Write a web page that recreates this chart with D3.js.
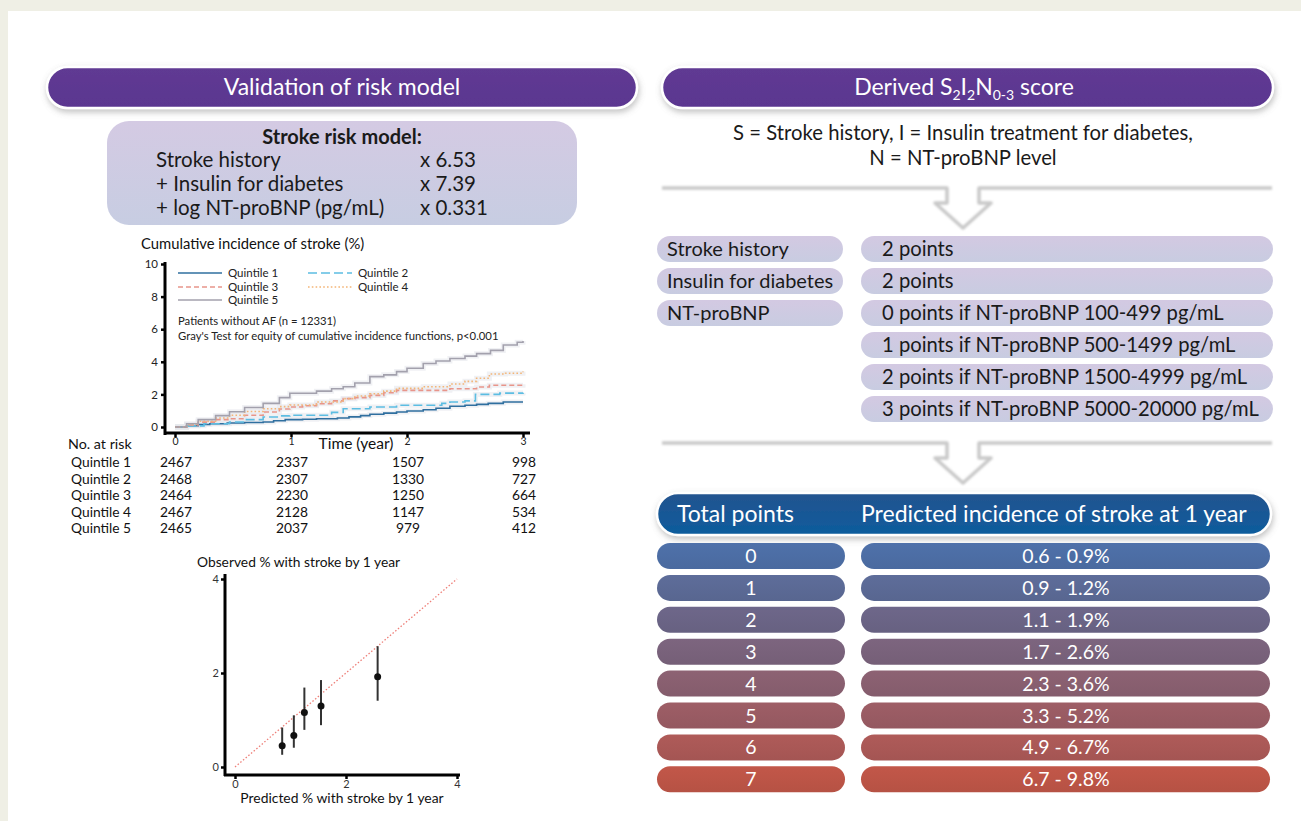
<!DOCTYPE html>
<html>
<head>
<meta charset="utf-8">
<script src="https://cdn.jsdelivr.net/npm/d3@7"></script>
<style>
  html, body { margin: 0; padding: 0; background: #efefe5; }
  svg { display: block; font-family: Lato, "Open Sans", sans-serif; }
</style>
</head>
<body>
<script>
// ---------- data ----------
const riskTerms = ["Stroke history", "+ Insulin for diabetes", "+ log NT-proBNP (pg/mL)"];
const riskCoefs = ["x 6.53", "x 7.39", "x 0.331"];

const quintiles = ["Quintile 1", "Quintile 2", "Quintile 3", "Quintile 4", "Quintile 5"];
const years = [0, 1, 2, 3];
const yTicks = [0, 2, 4, 6, 8, 10];

// cumulative incidence (%) by time (years), step functions
const q1 = [[0,0],[0.1,0.08],[0.2,0.15],[0.3,0.2],[0.45,0.25],[0.6,0.28],[0.76,0.31],[0.85,0.38],[0.95,0.45],[1.1,0.48],[1.22,0.51],[1.4,0.55],[1.5,0.62],[1.6,0.7],[1.68,0.78],[1.8,0.85],[1.91,0.92],[2.0,0.98],[2.14,1.06],[2.25,1.15],[2.37,1.27],[2.5,1.33],[2.6,1.39],[2.7,1.45],[2.83,1.53],[3.0,1.53]];
const q2 = [[0,0],[0.1,0.07],[0.25,0.2],[0.47,0.31],[0.6,0.45],[0.76,0.61],[0.9,0.68],[0.99,0.72],[1.22,0.72],[1.35,0.9],[1.45,1.12],[1.68,1.23],[1.91,1.33],[2.14,1.33],[2.3,1.45],[2.37,1.53],[2.5,1.6],[2.57,1.6],[2.59,2.0],[2.8,2.08],[3.0,2.1]];
const q3 = [[0,0],[0.1,0.12],[0.2,0.3],[0.35,0.45],[0.47,0.51],[0.6,0.72],[0.76,0.92],[0.9,1.1],[0.99,1.23],[1.1,1.3],[1.22,1.43],[1.35,1.6],[1.45,1.74],[1.55,1.8],[1.68,1.94],[1.8,2.1],[1.91,2.25],[2.14,2.25],[2.37,2.35],[2.6,2.45],[2.71,2.56],[3.0,2.62]];
const q4 = [[0,0],[0.1,0.15],[0.2,0.35],[0.35,0.55],[0.47,0.72],[0.6,0.95],[0.76,1.12],[0.9,1.25],[0.99,1.35],[1.22,1.53],[1.45,1.74],[1.55,1.9],[1.68,2.04],[1.8,2.2],[1.91,2.37],[2.14,2.47],[2.37,2.64],[2.5,2.8],[2.6,2.99],[2.71,3.25],[2.85,3.3],[3.0,3.4]];
const q5 = [[0,0],[0.1,0.2],[0.2,0.45],[0.35,0.7],[0.47,0.94],[0.6,1.2],[0.76,1.45],[0.9,1.8],[0.99,2.07],[1.22,2.2],[1.35,2.35],[1.45,2.47],[1.55,2.7],[1.68,3.09],[1.8,3.2],[1.91,3.4],[2.0,3.6],[2.14,3.9],[2.25,4.05],[2.37,4.2],[2.5,4.35],[2.6,4.5],[2.72,4.7],[2.83,5.03],[2.95,5.2],[3.0,5.28]];

// number at risk per quintile at years 0..3
const atRisk1 = [2467, 2337, 1507, 998];
const atRisk2 = [2468, 2307, 1330, 727];
const atRisk3 = [2464, 2230, 1250, 664];
const atRisk4 = [2467, 2128, 1147, 534];
const atRisk5 = [2465, 2037, 979, 412];

// calibration: predicted vs observed % with stroke by 1 year
const calTicks = [0, 2, 4];
const predicted = [0.85, 1.06, 1.25, 1.55, 2.57];
const observed  = [0.45, 0.67, 1.16, 1.30, 1.92];
const obsLower  = [0.26, 0.41, 0.79, 0.89, 1.41];
const obsUpper  = [0.84, 1.10, 1.69, 1.85, 2.57];

// score components
const scoreItems = ["Stroke history", "Insulin for diabetes", "NT-proBNP"];
const scorePoints = [
  "2 points",
  "2 points",
  "0 points if NT-proBNP 100-499 pg/mL",
  "1 points if NT-proBNP 500-1499 pg/mL",
  "2 points if NT-proBNP 1500-4999 pg/mL",
  "3 points if NT-proBNP 5000-20000 pg/mL"
];

// total points -> predicted 1-year incidence
const totalPoints = ["0", "1", "2", "3", "4", "5", "6", "7"];
const incidence = ["0.6 - 0.9%", "0.9 - 1.2%", "1.1 - 1.9%", "1.7 - 2.6%", "2.3 - 3.6%", "3.3 - 5.2%", "4.9 - 6.7%", "6.7 - 9.8%"];

// ---------- styles ----------
const quintileColors = ["#2f6f9f", "#5cbde2", "#e8958a", "#f3b577", "#a3a1ad"];
const quintileDash = [null, "9,4", "5,3", "1.6,2.2", null];
const rowColors = ["#4a6a9f", "#586690", "#676181", "#755f77", "#845c6c", "#945860", "#a45553", "#b65244"];

const W = 1301, H = 821;
const svg = d3.select("body").append("svg").attr("width", W).attr("height", H);
const defs = svg.append("defs");

const shadow = defs.append("filter").attr("id", "shadow")
  .attr("x", "-10%").attr("y", "-40%").attr("width", "120%").attr("height", "200%");
shadow.append("feDropShadow").attr("dx", 1).attr("dy", 3).attr("stdDeviation", 3)
  .attr("flood-color", "#777").attr("flood-opacity", 0.45);

const soft = defs.append("filter").attr("id", "soft")
  .attr("x", "-10%").attr("y", "-50%").attr("width", "120%").attr("height", "200%");
soft.append("feGaussianBlur").attr("stdDeviation", 0.9);

function vGrad(id, top, bottom) {
  const g = defs.append("linearGradient").attr("id", id).attr("x1", 0).attr("y1", 0).attr("x2", 0).attr("y2", 1);
  g.append("stop").attr("offset", "0%").attr("stop-color", top);
  g.append("stop").attr("offset", "100%").attr("stop-color", bottom);
}
vGrad("purple", "#603a93", "#5a3690");
vGrad("lav", "#d4cae3", "#c7cde2");
vGrad("navy", "#24548f", "#0c5c9d");
vGrad("lavRows", "#d3c9e2", "#c8cce1");
rowColors.forEach((c, i) => vGrad("row" + i, d3.color(c).brighter(0.18).formatHex(), c));

const fmtInt = d3.format("d");

// page background and panel
svg.append("rect").attr("width", W).attr("height", H).attr("fill", "#efefe5");
svg.append("rect").attr("x", 8).attr("y", 11).attr("width", W - 8).attr("height", H - 11).attr("fill", "#ffffff");

// ---------- section headers ----------
function pillHeader(x, w, fill) {
  return svg.append("rect").attr("x", x).attr("y", 67).attr("width", w).attr("height", 41)
    .attr("rx", 20.5).attr("fill", fill).attr("stroke", "#fff").attr("stroke-width", 2.5)
    .attr("filter", "url(#shadow)");
}
pillHeader(47, 590, "url(#purple)");
pillHeader(662, 611, "url(#purple)");

svg.append("text").attr("x", 342).attr("y", 95).attr("text-anchor", "middle")
  .attr("fill", "#fff").attr("font-size", 23).text("Validation of risk model");

const hdr = svg.append("text").attr("x", 964).attr("y", 95).attr("text-anchor", "middle")
  .attr("fill", "#fff").attr("font-size", 23);
hdr.append("tspan").text("Derived S");
hdr.append("tspan").attr("font-size", 14).attr("dy", 5).text("2");
hdr.append("tspan").attr("dy", -5).text("I");
hdr.append("tspan").attr("font-size", 14).attr("dy", 5).text("2");
hdr.append("tspan").attr("dy", -5).text("N");
hdr.append("tspan").attr("font-size", 14).attr("dy", 5).text("0-3");
hdr.append("tspan").attr("dy", -5).text(" score");

// ---------- risk model box ----------
svg.append("rect").attr("x", 107).attr("y", 121).attr("width", 470).attr("height", 104)
  .attr("rx", 22).attr("fill", "url(#lav)");
svg.append("text").attr("x", 342).attr("y", 144).attr("text-anchor", "middle")
  .attr("font-size", 20).attr("font-weight", "bold").attr("fill", "#1a1a1a").text("Stroke risk model:");
riskTerms.forEach((t, i) => {
  svg.append("text").attr("x", 156).attr("y", 167 + i * 24).attr("font-size", 20.5).attr("fill", "#1a1a1a").text(t);
  svg.append("text").attr("x", 420).attr("y", 167 + i * 24).attr("font-size", 20.5).attr("fill", "#1a1a1a").text(riskCoefs[i]);
});

// ---------- cumulative incidence plot ----------
const xT = d3.scaleLinear().domain([0, 3]).range([175, 523]);
const yC = d3.scaleLinear().domain([0, 10]).range([427, 264]);

svg.append("text").attr("x", 141).attr("y", 249).attr("font-size", 14.8).attr("fill", "#111")
  .text("Cumulative incidence of stroke (%)");

const curves = [q1, q2, q3, q4, q5];
const stepLine = d3.line().x(d => xT(d[0])).y(d => yC(d[1])).curve(d3.curveStepAfter);
// faint confidence haze beneath each curve
curves.forEach(c => {
  svg.append("path").attr("d", stepLine(c)).attr("fill", "none")
    .attr("stroke", "#e6e8ec").attr("stroke-width", 5).attr("opacity", 0.6);
});
curves.forEach((c, i) => {
  svg.append("path").attr("d", stepLine(c)).attr("fill", "none")
    .attr("stroke", quintileColors[i]).attr("stroke-width", 1.6)
    .attr("stroke-dasharray", quintileDash[i]);
});

const yAxisC = svg.append("g").attr("transform", "translate(165,0)")
  .call(d3.axisLeft(yC).tickValues(yTicks).tickFormat(fmtInt).tickSize(4).tickPadding(3));
yAxisC.select(".domain").attr("stroke-width", 3).attr("d", "M0,262V435");
yAxisC.selectAll(".tick line").attr("stroke-width", 2.5);
yAxisC.selectAll("text").attr("font-size", 11.5).attr("font-family", "Lato, sans-serif").attr("fill", "#222");

const xAxisC = svg.append("g").attr("transform", "translate(0,433)")
  .call(d3.axisBottom(xT).tickValues(years).tickFormat(fmtInt).tickSize(4).tickPadding(1));
xAxisC.select(".domain").attr("stroke-width", 3).attr("d", "M164,0H530");
xAxisC.selectAll(".tick line").attr("stroke-width", 2.5);
xAxisC.selectAll("text").attr("font-size", 10.5).attr("font-family", "Lato, sans-serif").attr("fill", "#222");

svg.append("text").attr("x", 356).attr("y", 449).attr("text-anchor", "middle")
  .attr("font-size", 15.5).attr("fill", "#111").text("Time (year)");

// legend
const legendPos = [[178, 273], [308, 273], [178, 287], [308, 287], [178, 300]];
quintiles.forEach((q, i) => {
  const [lx, ly] = legendPos[i];
  svg.append("line").attr("x1", lx).attr("x2", lx + 44).attr("y1", ly).attr("y2", ly)
    .attr("stroke", quintileColors[i]).attr("stroke-width", 1.6).attr("stroke-dasharray", quintileDash[i]);
  svg.append("text").attr("x", lx + 50).attr("y", ly + 4).attr("font-size", 11.5).attr("fill", "#222").text(q);
});
svg.append("text").attr("x", 178).attr("y", 325).attr("font-size", 11.3).attr("fill", "#222")
  .text("Patients without AF (n = 12331)");
svg.append("text").attr("x", 178).attr("y", 340).attr("font-size", 11.3).attr("fill", "#222")
  .text("Gray's Test for equity of cumulative incidence functions, p<0.001");

// number at risk table
svg.append("text").attr("x", 68).attr("y", 449).attr("font-size", 14.3).attr("fill", "#111").text("No. at risk");
const atRisk = [atRisk1, atRisk2, atRisk3, atRisk4, atRisk5];
quintiles.forEach((q, i) => {
  const ry = 467 + i * 16.5;
  svg.append("text").attr("x", 71).attr("y", ry).attr("font-size", 13.8).attr("fill", "#111").text(q);
  atRisk[i].forEach((n, j) => {
    svg.append("text").attr("x", xT(years[j]) + 1).attr("y", ry).attr("text-anchor", "middle")
      .attr("font-size", 13.8).attr("fill", "#111").text(n);
  });
});

// ---------- calibration plot ----------
const xP = d3.scaleLinear().domain([0, 4]).range([235, 457]);
const yO = d3.scaleLinear().domain([0, 4]).range([767, 579]);

svg.append("text").attr("x", 197).attr("y", 567).attr("font-size", 13.8).attr("fill", "#111")
  .text("Observed % with stroke by 1 year");

svg.append("line").attr("x1", xP(0)).attr("y1", yO(0)).attr("x2", xP(4)).attr("y2", yO(4))
  .attr("stroke", "#ee7f78").attr("stroke-width", 1.3).attr("stroke-dasharray", "1.5,2");

predicted.forEach((p, i) => {
  svg.append("line").attr("x1", xP(p)).attr("x2", xP(p)).attr("y1", yO(obsLower[i])).attr("y2", yO(obsUpper[i]))
    .attr("stroke", "#333").attr("stroke-width", 2);
  svg.append("circle").attr("cx", xP(p)).attr("cy", yO(observed[i])).attr("r", 3.5).attr("fill", "#111");
});

const yAxisO = svg.append("g").attr("transform", "translate(225,0)")
  .call(d3.axisLeft(yO).tickValues(calTicks).tickFormat(fmtInt).tickSize(4).tickPadding(2));
yAxisO.select(".domain").attr("stroke-width", 3).attr("d", "M0,574V776");
yAxisO.selectAll(".tick line").attr("stroke-width", 2.5);
yAxisO.selectAll("text").attr("font-size", 11).attr("font-family", "Lato, sans-serif").attr("fill", "#333");

const xAxisO = svg.append("g").attr("transform", "translate(0,775)")
  .call(d3.axisBottom(xP).tickValues(calTicks).tickFormat(fmtInt).tickSize(4).tickPadding(1));
xAxisO.select(".domain").attr("stroke-width", 3).attr("d", "M224,0H460");
xAxisO.selectAll(".tick line").attr("stroke-width", 2.5);
xAxisO.selectAll("text").attr("font-size", 11).attr("font-family", "Lato, sans-serif").attr("fill", "#333");

svg.append("text").attr("x", 342).attr("y", 803).attr("text-anchor", "middle")
  .attr("font-size", 13.9).attr("fill", "#111").text("Predicted % with stroke by 1 year");

// ---------- score definition ----------
svg.append("text").attr("x", 963).attr("y", 140).attr("text-anchor", "middle").attr("font-size", 20.3)
  .attr("fill", "#1a1a1a").text("S = Stroke history, I = Insulin treatment for diabetes,");
svg.append("text").attr("x", 963).attr("y", 165).attr("text-anchor", "middle").attr("font-size", 20.3)
  .attr("fill", "#1a1a1a").text("N = NT-proBNP level");

// separator arrows
function separator(y0, cx) {
  const p = d3.path();
  p.moveTo(662, y0); p.lineTo(cx - 16, y0); p.lineTo(cx - 16, y0 + 15); p.lineTo(cx - 28, y0 + 15);
  p.lineTo(cx, y0 + 40); p.lineTo(cx + 28, y0 + 15); p.lineTo(cx + 16, y0 + 15); p.lineTo(cx + 16, y0);
  p.lineTo(1272, y0);
  svg.append("path").attr("d", p.toString()).attr("fill", "none").attr("stroke", "#c9c9c9")
    .attr("stroke-width", 3.5).attr("stroke-linejoin", "round").attr("filter", "url(#soft)");
}
separator(188, 963);
separator(443, 963);

// score rows
const rowTop = i => 236 + i * 32;
scoreItems.forEach((s, i) => {
  svg.append("rect").attr("x", 657).attr("y", rowTop(i)).attr("width", 186).attr("height", 26)
    .attr("rx", 13).attr("fill", "url(#lavRows)");
  svg.append("text").attr("x", 667).attr("y", rowTop(i) + 20).attr("font-size", 20).attr("fill", "#1a1a1a").text(s);
});
scorePoints.forEach((s, i) => {
  svg.append("rect").attr("x", 861).attr("y", rowTop(i)).attr("width", 412).attr("height", 26)
    .attr("rx", 13).attr("fill", "url(#lavRows)");
  svg.append("text").attr("x", 882).attr("y", rowTop(i) + 20).attr("font-size", 20.2).attr("fill", "#1a1a1a").text(s);
});

// ---------- incidence table ----------
svg.append("rect").attr("x", 657).attr("y", 493).attr("width", 614).attr("height", 42)
  .attr("rx", 21).attr("fill", "url(#navy)").attr("stroke", "#fff").attr("stroke-width", 2.5)
  .attr("filter", "url(#shadow)");
svg.append("text").attr("x", 677).attr("y", 522).attr("font-size", 23).attr("fill", "#fff").text("Total points");
svg.append("text").attr("x", 861).attr("y", 522).attr("font-size", 23).attr("fill", "#fff")
  .text("Predicted incidence of stroke at 1 year");

const incTop = i => 543 + i * 31.9;
totalPoints.forEach((tp, i) => {
  svg.append("rect").attr("x", 657).attr("y", incTop(i)).attr("width", 188).attr("height", 26)
    .attr("rx", 13).attr("fill", "url(#row" + i + ")");
  svg.append("text").attr("x", 751).attr("y", incTop(i) + 20).attr("text-anchor", "middle")
    .attr("font-size", 19.5).attr("fill", "#fff").text(tp);
  svg.append("rect").attr("x", 861).attr("y", incTop(i)).attr("width", 409).attr("height", 26)
    .attr("rx", 13).attr("fill", "url(#row" + i + ")");
  svg.append("text").attr("x", 1066).attr("y", incTop(i) + 20).attr("text-anchor", "middle")
    .attr("font-size", 19.5).attr("fill", "#fff").text(incidence[i]);
});
</script>
</body>
</html>
